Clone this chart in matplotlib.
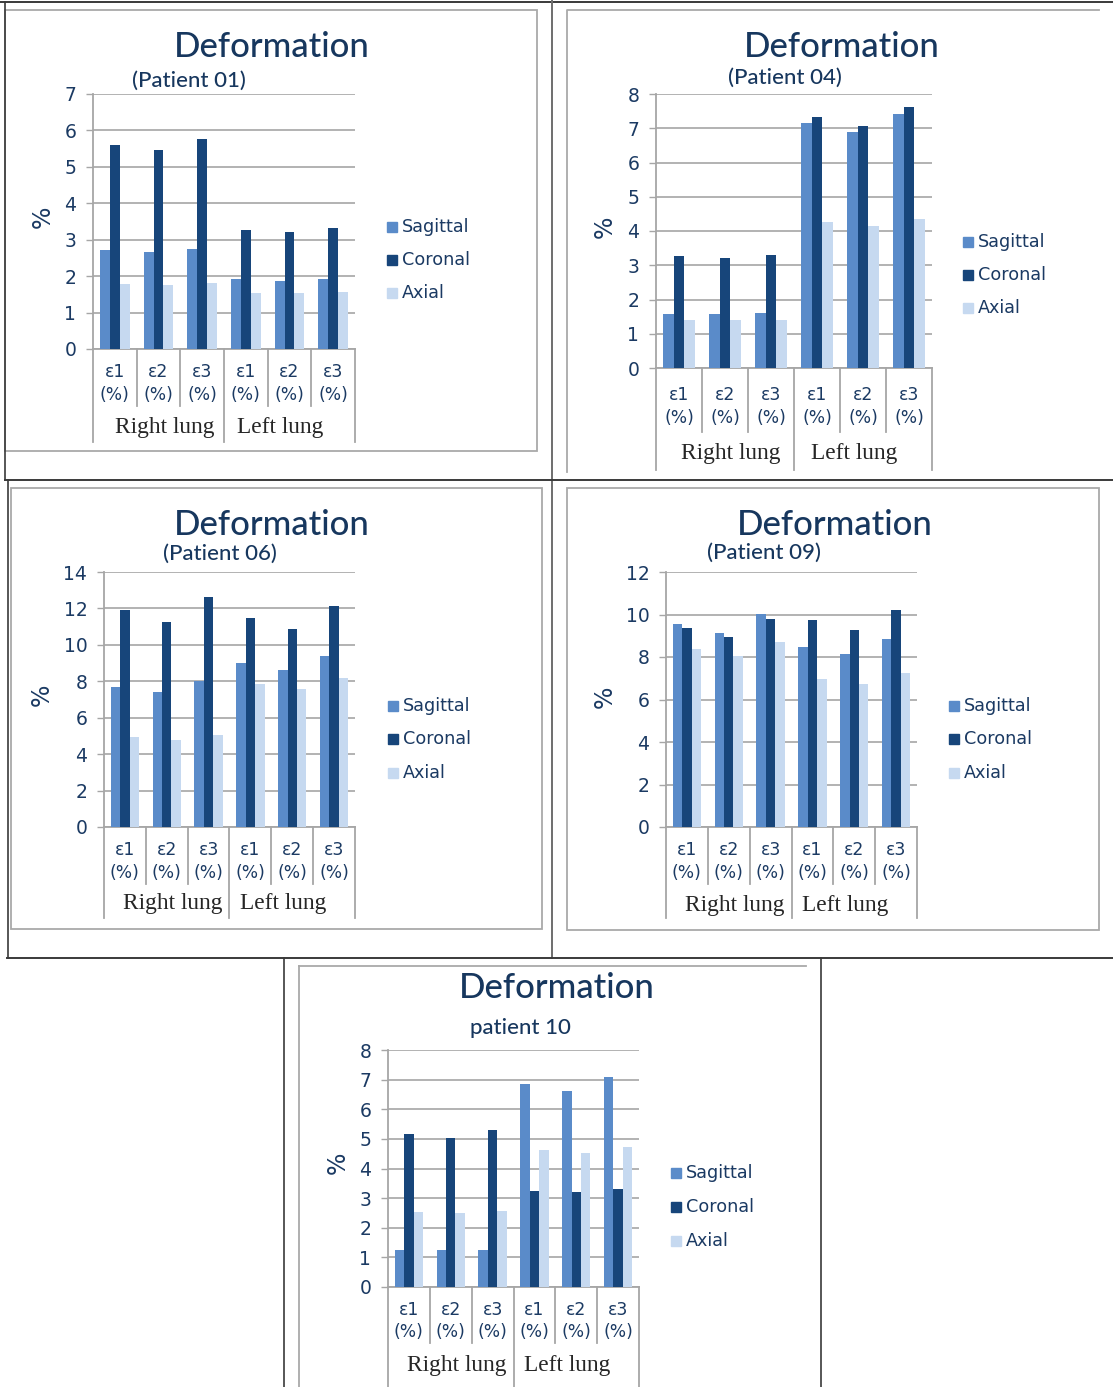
import matplotlib
matplotlib.use('Agg')
import matplotlib.pyplot as plt
from matplotlib.lines import Line2D
from matplotlib.patches import Rectangle
import matplotlib.transforms as mtransforms

# ---------------- data ----------------
categories = ['ε1\n(%)', 'ε2\n(%)', 'ε3\n(%)', 'ε1\n(%)', 'ε2\n(%)', 'ε3\n(%)']
groups = ['Right lung', 'Left lung']
series_names = ['Sagittal', 'Coronal', 'Axial']

p01_sagittal = [2.71, 2.66, 2.74, 1.91, 1.88, 1.93]
p01_coronal = [5.61, 5.45, 5.77, 3.26, 3.21, 3.31]
p01_axial = [1.78, 1.77, 1.80, 1.55, 1.53, 1.56]

p04_sagittal = [1.58, 1.57, 1.60, 7.15, 6.90, 7.41]
p04_coronal = [3.26, 3.21, 3.31, 7.34, 7.08, 7.61]
p04_axial = [1.41, 1.40, 1.41, 4.25, 4.16, 4.34]

p06_sagittal = [7.67, 7.39, 8.00, 9.00, 8.62, 9.41]
p06_coronal = [11.93, 11.26, 12.63, 11.48, 10.85, 12.13]
p06_axial = [4.92, 4.80, 5.03, 7.87, 7.58, 8.18]

p09_sagittal = [9.57, 9.13, 10.04, 8.47, 8.14, 8.83]
p09_coronal = [9.35, 8.94, 9.79, 9.74, 9.29, 10.23]
p09_axial = [8.38, 8.06, 8.72, 6.98, 6.75, 7.23]

p10_sagittal = [1.25, 1.24, 1.26, 6.85, 6.63, 7.08]
p10_coronal = [5.17, 5.04, 5.31, 3.25, 3.20, 3.30]
p10_axial = [2.54, 2.51, 2.57, 4.63, 4.53, 4.73]

titles = ['Deformation'] * 5
subtitles = ['(Patient 01)', '(Patient 04)', '(Patient 06)', '(Patient 09)', 'patient 10']
y_max = [7, 8, 14, 12, 8]
y_step = [1, 1, 2, 2, 1]

# ---------------- style ----------------
W, H = 1113, 1387
colors = ['#5A8BC9', '#17457A', '#C6D9F0']
navy = '#1B3A63'
grid_c = '#A6A6A6'
frame_c = '#A9A9A9'
table_c = '#3A3A3A'
title_font = ['Lato', 'DejaVu Sans']
body_font = ['DejaVu Sans']
serif_font = ['Liberation Serif', 'DejaVu Serif']
group_shift_px = [6, -9]

fig = plt.figure(figsize=(W / 100, H / 100), dpi=100)
fig.patch.set_facecolor('white')


def fx(x):
    return x / W


def fy(y):
    return 1 - y / H


def fline(xs, ys, color, lw):
    fig.add_artist(Line2D([fx(v) for v in xs], [fy(v) for v in ys],
                          color=color, lw=lw, transform=fig.transFigure))


# panel geometry in pixels
panels = [
    dict(data=(p01_sagittal, p01_coronal, p01_axial),
         ax=(93, 355, 94, 349), title=(272, 47), sub=(189, 81), pct=(43, 217),
         leg=(387, [227, 260, 293]), lab=(372, 395, 427), sep=(406, 442)),
    dict(data=(p04_sagittal, p04_coronal, p04_axial),
         ax=(656, 932, 94, 368), title=(842, 47), sub=(785, 78), pct=(605, 227),
         leg=(963, [242, 275, 308]), lab=(395, 418, 454), sep=(432, 470)),
    dict(data=(p06_sagittal, p06_coronal, p06_axial),
         ax=(104, 355, 572, 827), title=(272, 525), sub=(220, 554), pct=(42, 695),
         leg=(388, [706, 739, 773]), lab=(850, 873, 904), sep=(884, 918)),
    dict(data=(p09_sagittal, p09_coronal, p09_axial),
         ax=(666, 917, 572, 827), title=(835, 525), sub=(764, 553), pct=(605, 697),
         leg=(949, [706, 739, 773]), lab=(850, 873, 905), sep=(884, 918)),
    dict(data=(p10_sagittal, p10_coronal, p10_axial),
         ax=(388, 639, 1050, 1287), title=(557, 988), sub=(520, 1028), pct=(338, 1163),
         leg=(671, [1173, 1207, 1241]), lab=(1310, 1332, 1365), sep=(1343, 1387)),
]

# ---------------- table & chart frames ----------------
fline([0, W], [2, 2], table_c, 1.4)
fline([552, 552], [0, 958], '#6E6E6E', 1.4)
fline([5, 5], [2, 480], table_c, 1.2)
fline([5, W], [480, 480], table_c, 1.4)
fline([8, 8], [480, 958], table_c, 1.2)
fline([7, W], [958, 958], table_c, 1.4)
fline([284, 284], [958, H], table_c, 1.2)
fline([821, 821], [958, H], table_c, 1.2)

# chart area frames
fig.add_artist(Rectangle((fx(5), fy(451)), (537 - 5) / W, (451 - 10) / H,
                         fill=False, ec=frame_c, lw=1.3, transform=fig.transFigure))
fline([567, 567, 1099], [472, 10, 10], frame_c, 1.3)
fig.add_artist(Rectangle((fx(11), fy(929)), (542 - 11) / W, (929 - 488) / H,
                         fill=False, ec=frame_c, lw=1.3, transform=fig.transFigure))
fig.add_artist(Rectangle((fx(567), fy(930)), (1099 - 567) / W, (930 - 488) / H,
                         fill=False, ec=frame_c, lw=1.3, transform=fig.transFigure))
fline([299, 299], [H, 966], frame_c, 1.3)
fline([299, 806], [966, 966], frame_c, 1.3)

bw = 0.225
offsets = [-bw, 0, bw]

for i, p in enumerate(panels):
    l, r, t, b = p['ax']
    ax = fig.add_axes([fx(l), fy(b), (r - l) / W, (b - t) / H])
    ax.set_facecolor('none')
    xs = list(range(len(categories)))
    for s, (vals, off) in enumerate(zip(p['data'], offsets)):
        ax.bar([x + off for x in xs], vals, width=bw, color=colors[s],
               edgecolor='none', zorder=3, label=series_names[s])
    ax.set_xlim(-0.5, len(categories) - 0.5)
    ax.set_ylim(0, y_max[i])
    ticks = list(range(0, y_max[i] + 1, y_step[i]))
    ax.set_yticks(ticks)
    ax.set_yticklabels([str(v) for v in ticks], fontsize=13.5, color=navy,
                       family=body_font)
    ax.yaxis.grid(True, color=grid_c, lw=1.2, zorder=0)
    ax.set_axisbelow(True)
    ax.tick_params(axis='y', length=5, width=1.0, color=grid_c, pad=7)
    ax.set_xticks([])
    for sp in ['top', 'right']:
        ax.spines[sp].set_visible(False)
    for sp in ['left', 'bottom']:
        ax.spines[sp].set_color(grid_c)
        ax.spines[sp].set_linewidth(1.3)
    h = b - t
    cat_px = (r - l) / len(categories)

    def afy(y):
        return (b - y) / h

    tr = mtransforms.blended_transform_factory(ax.transData, ax.transAxes)
    y1, y2, y3 = p['lab']
    for x, c in zip(xs, categories):
        top, bot = c.split('\n')
        ax.text(x, afy(y1), top, transform=tr, ha='center', va='center',
                fontsize=12.5, color=navy, family=body_font)
        ax.text(x, afy(y2), bot, transform=tr, ha='center', va='center',
                fontsize=12.3, color=navy, family=body_font)
    n_per = len(categories) // len(groups)
    for g, name in enumerate(groups):
        cx = g * n_per + (n_per - 1) / 2 + group_shift_px[g] / cat_px
        ax.text(cx, afy(y3), name, transform=tr, ha='center', va='center',
                fontsize=16.8, color='#262626', family=serif_font)
    s_short, s_long = p['sep']
    for k in range(len(categories) + 1):
        xb = k - 0.5
        yb = s_long if k % n_per == 0 else s_short
        ax.plot([xb, xb], [0, afy(yb)], transform=tr, color=grid_c, lw=1.3,
                clip_on=False, zorder=1)

    # titles
    tx, ty = p['title']
    fig.text(fx(tx), fy(ty), titles[i], ha='center', va='center', fontsize=25,
             color='#17375E', family=title_font, weight='medium')
    sx, sy = p['sub']
    fig.text(fx(sx), fy(sy), subtitles[i], ha='center', va='center', fontsize=16,
             color='#17375E', family=title_font, weight='medium')
    px, py = p['pct']
    fig.text(fx(px), fy(py), '%', ha='center', va='center', fontsize=17,
             rotation=90, color=navy, family=body_font)

    # legend (manual)
    lx, lys = p['leg']
    for s, ly in enumerate(lys):
        fig.add_artist(Rectangle((fx(lx), fy(ly + 5)), 10 / W, 10 / H,
                                 color=colors[s], transform=fig.transFigure))
        fig.text(fx(lx + 15), fy(ly), series_names[s], ha='left', va='center',
                 fontsize=12.7, color=navy, family=body_font)

fig.savefig('out.png', dpi=100, facecolor='white')
